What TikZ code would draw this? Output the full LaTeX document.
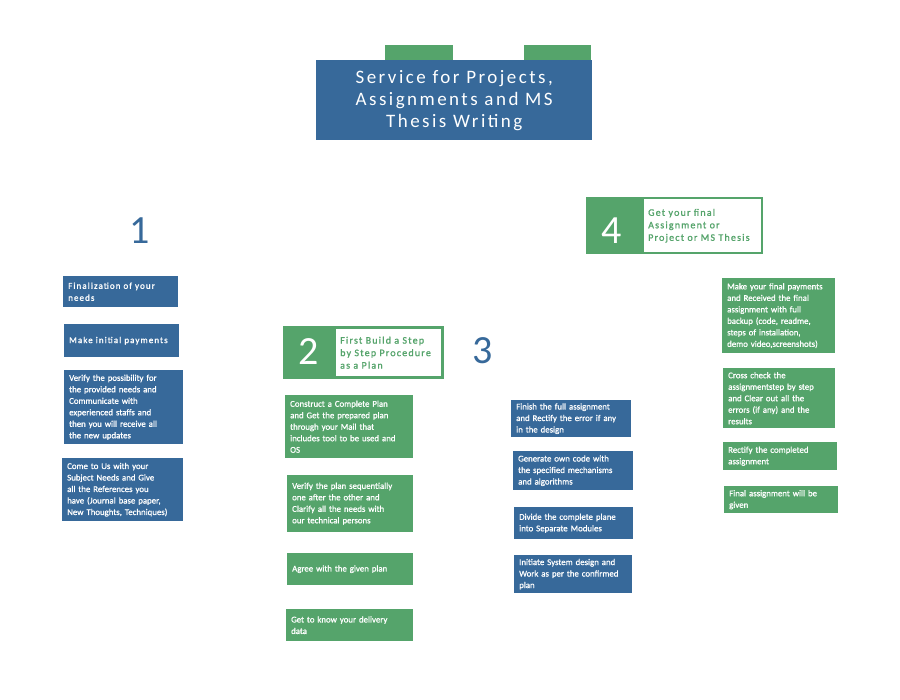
\documentclass[tikz,border=0pt]{standalone}
\usepackage{fontspec}
\setmainfont{Carlito}
\newfontfamily\trackfont[LetterSpace=13]{Carlito}
\newfontfamily\trackheavy[LetterSpace=12,FakeBold=1.2]{Carlito}
\newfontfamily\cardfont[FakeBold=1.0]{Carlito}
\definecolor{svcblue}{HTML}{37699A}
\definecolor{svcgreen}{HTML}{55A46B}

\tikzset{
  card/.style={anchor=north west, inner xsep=5pt, inner ysep=1pt, align=left,
    text=white, font=\cardfont\fontsize{8.8}{11.5}\selectfont},
  bluecard/.style={card, fill=svcblue},
  greencard/.style={card, fill=svcgreen},
  size/.style 2 args={minimum width=#1, text width=#1-10, minimum height=#2},
  tracked/.style={font=\trackheavy\fontsize{9}{12}\selectfont},
  tab/.style={fill=svcgreen, anchor=north west, minimum width=68, minimum height=15, inner sep=0pt},
  titlebox/.style={fill=svcblue, anchor=north west, text=white, align=center,
    minimum width=276, minimum height=80, inner sep=0pt,
    font=\trackfont\fontsize{19}{22}\selectfont},
  stepband/.style={fill=svcgreen, anchor=north west, inner sep=0pt},
  steplabel/.style={fill=white, anchor=north west, inner xsep=4pt, inner ysep=0pt,
    align=left, text=svcgreen, font=\trackheavy\fontsize{10}{12.5}\selectfont},
  bignum/.style={font=\fontsize{40}{40}\selectfont, inner sep=0pt}
}

\begin{document}
\begin{tikzpicture}[x=1pt, y=-1pt]
\useasboundingbox (0,0) rectangle (900,700);

% title block with its two tabs
\node[tab] (tabL) at (385,45) {};
\node[tab, minimum width=67] (tabR) at (524,45) {};
\node[titlebox] (title) at (316,60) {Service for Projects,\\Assignments and MS\\Thesis Writing};

% step numbers
\node[bignum, text=svcblue] (n1) at (140,231) {1};
\node[bignum, text=svcblue] (n3) at (483,351) {3};

% step 2 heading
\node[stepband, minimum width=161, minimum height=53] (h2) at (283,326) {};
\node[steplabel, minimum width=105, minimum height=47, text width=97] (h2t) at (336,329) {First Build a Step\\by Step Procedure\\as a Plan};
\node[bignum, text=white] (n2) at (309,352) {2};

% step 4 heading
\node[stepband, minimum width=177, minimum height=57] (h4) at (586,197) {};
\node[steplabel, minimum width=117, minimum height=53, text width=109] (h4t) at (644,199) {Get your final\\Assignment or\\Project or MS Thesis};
\node[bignum, text=white] (n4) at (612,231) {4};

% column 1
\node[bluecard, size={115}{31}, tracked] (c1a) at (63,276) {Finalization of your\\needs};
\node[bluecard, size={115}{33}, tracked] (c1b) at (64,324) {Make initial payments};
\node[bluecard, size={119}{74}] (c1c) at (64,370) {Verify the possibility for\\the provided needs and\\Communicate with\\experienced staffs and\\then you will receive all\\the new updates};
\node[bluecard, size={121}{63}] (c1d) at (62,458) {Come to Us with your\\Subject Needs and Give\\all the References you\\have (Journal base paper,\\New Thoughts, Techniques)};

% column 2
\node[greencard, size={128}{63}] (c2a) at (285,395) {Construct a Complete Plan\\and Get the prepared plan\\through your Mail that\\includes tool to be used and\\OS};
\node[greencard, size={126}{57}] (c2b) at (287,475) {Verify the plan sequentially\\one after the other and\\Clarify all the needs with\\our technical persons};
\node[greencard, size={126}{32}] (c2c) at (287,553) {Agree with the given plan};
\node[greencard, size={127}{32}] (c2d) at (286,609) {Get to know your delivery\\data};

% column 3
\node[bluecard, size={120}{37}] (c3a) at (511,400) {Finish the full assignment\\and Rectify the error if any\\in the design};
\node[bluecard, size={120}{39}] (c3b) at (513,451) {Generate own code with\\the specified mechanisms\\and algorithms};
\node[bluecard, size={119}{32}] (c3c) at (514,507) {Divide the complete plane\\into Separate Modules};
\node[bluecard, size={118}{38}] (c3d) at (514,555) {Initiate System design and\\Work as per the confirmed\\plan};

% column 4
\node[greencard, size={113}{75}] (c4a) at (722,278) {Make your final payments\\and Received the final\\assignment with full\\backup (code, readme,\\steps of installation,\\demo video,screenshots)};
\node[greencard, size={112}{60}] (c4b) at (723,368) {Cross check the\\assignmentstep by step\\and Clear out all the\\errors (if any) and the\\results};
\node[greencard, size={114}{28}] (c4c) at (723,442) {Rectify the completed\\assignment};
\node[greencard, size={114}{27}] (c4d) at (724,486) {Final assignment will be\\given};
\end{tikzpicture}
\end{document}
